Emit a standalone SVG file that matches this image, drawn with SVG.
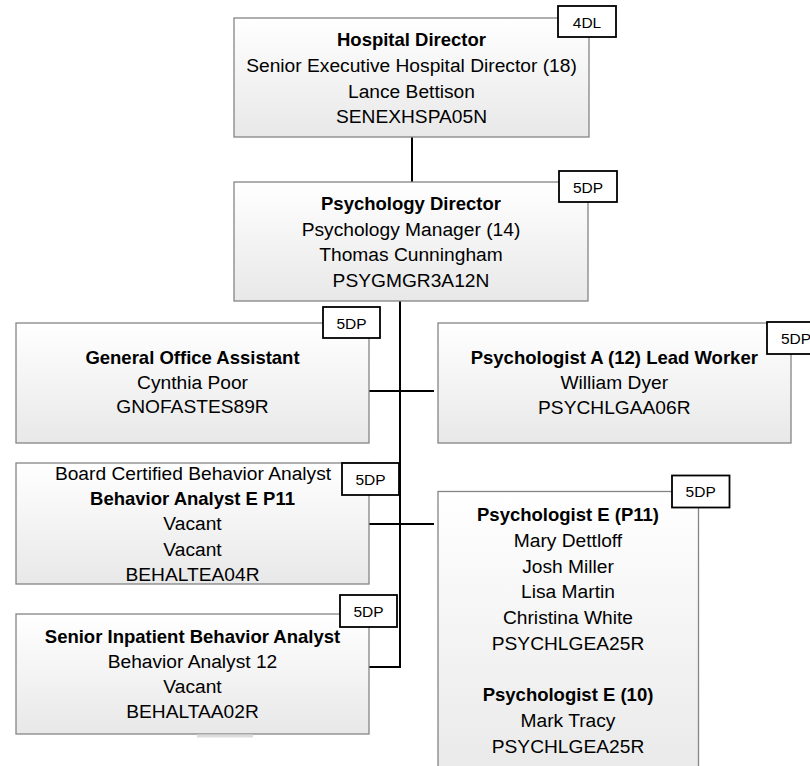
<svg xmlns="http://www.w3.org/2000/svg" width="810" height="766" viewBox="0 0 810 766">
  <defs>
    <linearGradient id="boxGrad" x1="0" y1="0" x2="0" y2="1">
      <stop offset="0" stop-color="#ffffff"/>
      <stop offset="1" stop-color="#e8e8e8"/>
    </linearGradient>
    <style>
      .box { fill: url(#boxGrad); stroke: #858585; stroke-width: 1.3; }
      .tag { fill: #ffffff; stroke: #000000; stroke-width: 1.8; }
      .t { font-family: "Liberation Sans", Arial, sans-serif; font-size: 19.2px; fill: #000; text-anchor: middle; }
      .b { font-weight: bold; font-size: 18.5px; }
      .tt { font-family: "Liberation Sans", Arial, sans-serif; font-size: 15.5px; fill: #000; text-anchor: middle; }
      .conn { stroke: #000; stroke-width: 2; fill: none; }
    </style>
  </defs>
  <rect width="810" height="766" fill="#ffffff"/>

  <g id="connectors">
    <line class="conn" x1="412" y1="137" x2="412" y2="182"/>
    <line class="conn" x1="400" y1="301" x2="400" y2="668"/>
    <line class="conn" x1="369" y1="391" x2="434" y2="391"/>
    <line class="conn" x1="369" y1="524" x2="434" y2="524"/>
    <line class="conn" x1="369" y1="667" x2="401" y2="667"/>
  </g>

  <g id="hospital-director">
    <rect class="box" x="234" y="18" width="355" height="119"/>
    <rect class="tag" x="558" y="6" width="58" height="31"/>
    <text class="tt" x="587" y="27.5">4DL</text>
    <text class="t b" x="411.5" y="46">Hospital Director</text>
    <text class="t" x="411.5" y="71.8">Senior Executive Hospital Director (18)</text>
    <text class="t" x="411.5" y="97.6">Lance Bettison</text>
    <text class="t" x="411.5" y="123.4">SENEXHSPA05N</text>
  </g>

  <g id="psychology-director">
    <rect class="box" x="234" y="182" width="354" height="119"/>
    <rect class="tag" x="559" y="171" width="58" height="31"/>
    <text class="tt" x="588" y="192.5">5DP</text>
    <text class="t b" x="411" y="210">Psychology Director</text>
    <text class="t" x="411" y="235.5">Psychology Manager (14)</text>
    <text class="t" x="411" y="261">Thomas Cunningham</text>
    <text class="t" x="411" y="286.5">PSYGMGR3A12N</text>
  </g>

  <g id="general-office-assistant">
    <rect class="box" x="16" y="323" width="353" height="120"/>
    <rect class="tag" x="323" y="307" width="57" height="31"/>
    <text class="tt" x="351.5" y="328.5">5DP</text>
    <text class="t b" x="192.5" y="364.3">General Office Assistant</text>
    <text class="t" x="192.5" y="388.8">Cynthia Poor</text>
    <text class="t" x="192.5" y="413.3">GNOFASTES89R</text>
  </g>

  <g id="psychologist-a">
    <rect class="box" x="438" y="323" width="353" height="120"/>
    <rect class="tag" x="767" y="322" width="58" height="32"/>
    <text class="tt" x="796" y="343.5">5DP</text>
    <text class="t b" x="614.3" y="364">Psychologist A (12) Lead Worker</text>
    <text class="t" x="614.3" y="388.8">William Dyer</text>
    <text class="t" x="614.3" y="413.6">PSYCHLGAA06R</text>
  </g>

  <g id="behavior-analyst-e">
    <rect class="box" x="16" y="463" width="353" height="121"/>
    <rect class="tag" x="342" y="463" width="57" height="32"/>
    <text class="tt" x="370.5" y="484.5">5DP</text>
    <text class="t" x="193" y="480">Board Certified Behavior Analyst</text>
    <text class="t b" x="192.5" y="505.2">Behavior Analyst E P11</text>
    <text class="t" x="192.5" y="530.4">Vacant</text>
    <text class="t" x="192.5" y="555.6">Vacant</text>
    <text class="t" x="192.5" y="580.8">BEHALTEA04R</text>
  </g>

  <g id="senior-inpatient-behavior-analyst">
    <rect class="box" x="16" y="614" width="353" height="120"/>
    <rect class="tag" x="340" y="595" width="57" height="32"/>
    <text class="tt" x="368.5" y="616.5">5DP</text>
    <text class="t b" x="192.5" y="643.3">Senior Inpatient Behavior Analyst</text>
    <text class="t" x="192.5" y="668.3">Behavior Analyst 12</text>
    <text class="t" x="192.5" y="693.3">Vacant</text>
    <text class="t" x="192.5" y="718.3">BEHALTAA02R</text>
    <rect x="197" y="734.5" width="56" height="3" fill="#dcdcdc"/>
  </g>

  <g id="psychologist-e">
    <rect class="box" x="438" y="491.5" width="260.5" height="300"/>
    <rect class="tag" x="672" y="475.5" width="57.5" height="32"/>
    <text class="tt" x="700.7" y="497">5DP</text>
    <text class="t b" x="568" y="521">Psychologist E (P11)</text>
    <text class="t" x="568" y="546.7">Mary Dettloff</text>
    <text class="t" x="568" y="572.5">Josh Miller</text>
    <text class="t" x="568" y="598.2">Lisa Martin</text>
    <text class="t" x="568" y="624">Christina White</text>
    <text class="t" x="568" y="649.7">PSYCHLGEA25R</text>
    <text class="t b" x="568" y="701.2">Psychologist E (10)</text>
    <text class="t" x="568" y="727">Mark Tracy</text>
    <text class="t" x="568" y="752.7">PSYCHLGEA25R</text>
  </g>
</svg>
